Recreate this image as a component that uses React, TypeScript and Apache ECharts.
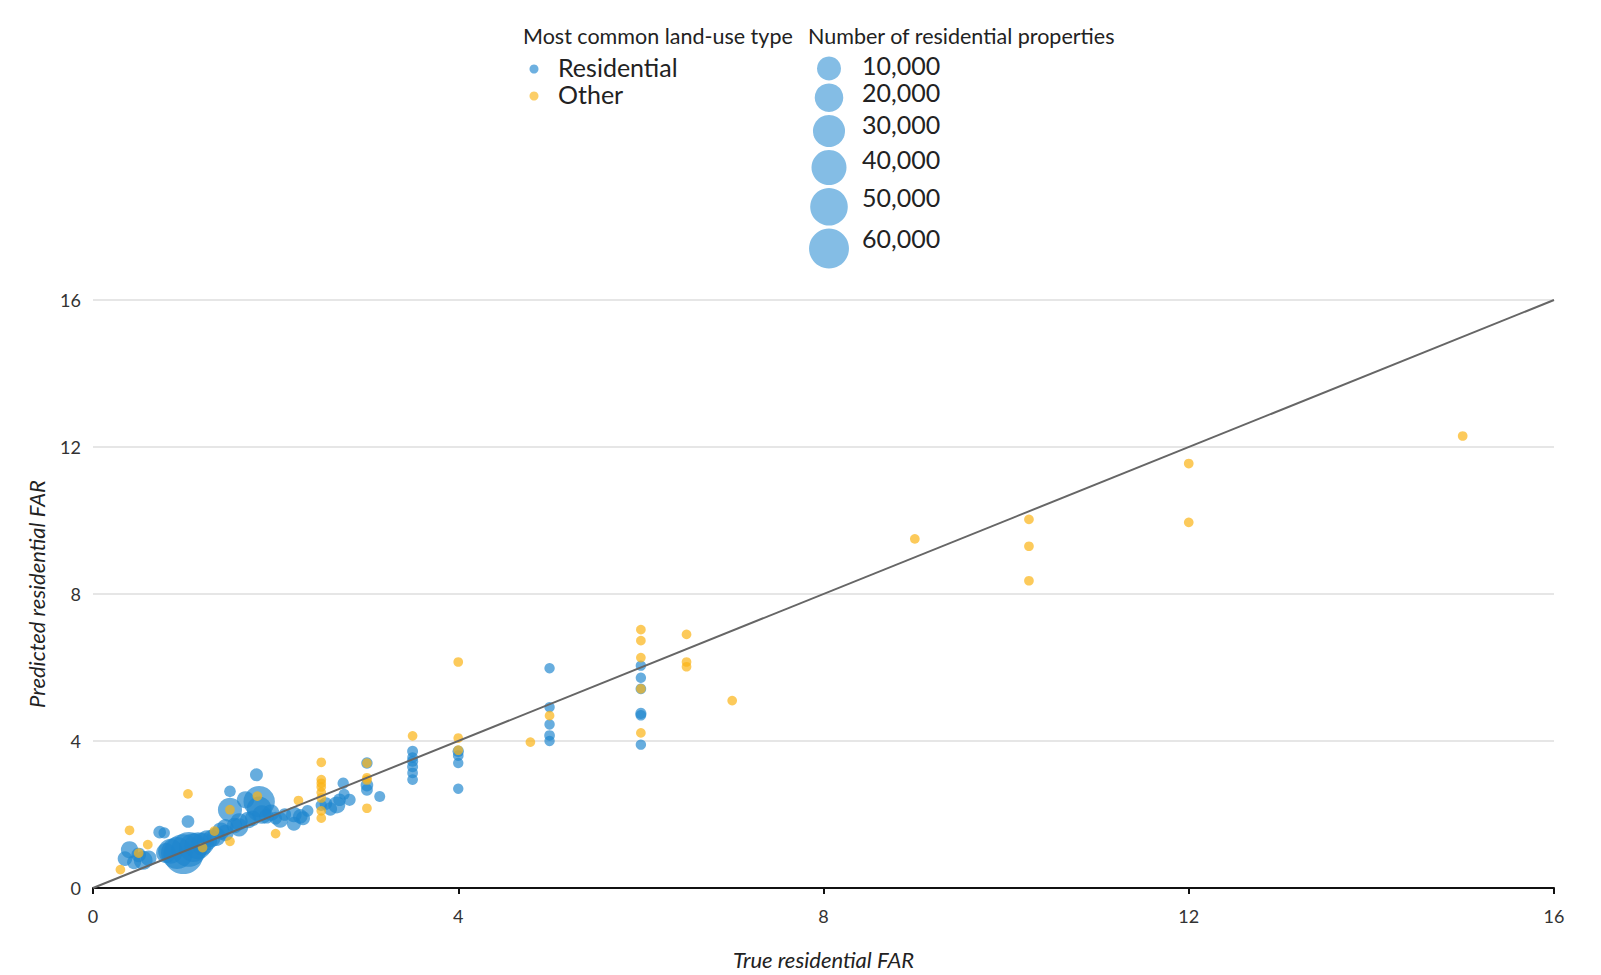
import React, { useEffect, useRef } from "react";
import * as echarts from "echarts";

// [true FAR, predicted FAR, number of residential properties]
const residential: number[][] = [
  [0.4, 1.04, 6000], [0.35, 0.8, 3000], [0.45, 0.7, 2500], [0.61, 0.81, 4000], [0.55, 0.75, 8000],
  [0.5, 0.9, 3000], [0.73, 1.52, 1500], [0.78, 1.5, 800], [0.8, 0.95, 10000], [0.85, 1.0, 20000],
  [0.92, 0.95, 40000], [0.99, 0.92, 70000], [1.05, 1.05, 50000], [1.1, 1.1, 30000], [1.15, 1.15, 25000],
  [1.2, 1.2, 15000], [1.04, 1.81, 1500], [1.25, 1.3, 10000], [1.3, 1.35, 6000], [1.35, 1.4, 8000],
  [1.4, 1.55, 6000], [1.45, 1.5, 5000], [1.45, 1.65, 5000], [1.5, 2.13, 18000], [1.5, 2.63, 900],
  [1.55, 1.7, 4000], [1.6, 1.8, 6000], [1.6, 1.65, 7000], [1.67, 2.4, 6000], [1.7, 1.85, 5000],
  [1.75, 1.9, 4000], [1.79, 3.08, 1700], [1.82, 2.35, 38000], [1.82, 2.15, 20000], [1.85, 2.0, 8000],
  [1.9, 1.95, 3000], [1.95, 2.05, 5000], [2.0, 1.9, 1500], [2.05, 1.85, 4000], [2.1, 2.0, 1500],
  [2.2, 1.75, 2500], [2.2, 2.0, 4000], [2.27, 1.95, 3000], [2.3, 1.9, 2500], [2.35, 2.1, 1000],
  [2.5, 2.25, 800], [2.55, 2.3, 1500], [2.6, 2.15, 2000], [2.67, 2.26, 5600], [2.7, 2.4, 1500],
  [2.74, 2.85, 800], [2.81, 2.4, 1200], [2.75, 2.55, 600], [3.0, 3.4, 800], [3.0, 2.8, 1500],
  [3.0, 2.67, 1000], [3.14, 2.49, 600], [3.5, 3.72, 600], [3.5, 3.55, 500], [3.5, 3.45, 700],
  [3.5, 3.3, 600], [3.5, 3.13, 500], [3.5, 2.95, 500], [4.0, 3.72, 800], [4.0, 3.6, 500],
  [4.0, 3.4, 400], [4.0, 2.7, 400], [5.0, 5.98, 400], [5.0, 4.92, 400], [5.0, 4.45, 400],
  [5.0, 4.15, 500], [5.0, 4.0, 400], [6.0, 6.05, 400], [6.0, 5.72, 400], [6.0, 5.42, 500],
  [6.0, 4.75, 700], [6.0, 4.7, 500], [6.0, 3.9, 400],
];

const other: number[][] = [
  [15.0, 12.3, 200], [12.0, 11.55, 200], [12.0, 9.95, 200], [10.25, 10.03, 200], [10.25, 9.3, 200],
  [10.25, 8.36, 200], [9.0, 9.5, 200], [7.0, 5.1, 200], [6.5, 6.9, 200], [6.5, 6.15, 200],
  [6.5, 6.02, 200], [6.0, 7.03, 200], [6.0, 6.73, 200], [6.0, 6.27, 200], [6.0, 5.42, 200],
  [6.0, 4.22, 200], [5.0, 4.69, 200], [4.79, 3.97, 200], [4.0, 6.15, 200], [4.0, 4.08, 200],
  [4.0, 3.75, 200], [3.5, 4.14, 200], [3.0, 3.4, 200], [3.0, 3.0, 200], [3.0, 2.94, 200],
  [3.0, 2.17, 200], [2.5, 3.42, 200], [2.5, 2.95, 200], [2.5, 2.85, 200], [2.5, 2.75, 200],
  [2.5, 2.6, 200], [2.5, 2.45, 200], [2.5, 2.1, 200], [2.5, 1.9, 200], [2.25, 2.38, 200],
  [2.0, 1.48, 200], [1.5, 1.27, 200], [1.33, 1.55, 200], [1.5, 2.13, 200], [1.04, 2.56, 200],
  [0.4, 1.57, 200], [0.6, 1.18, 200], [0.3, 0.5, 200], [0.5, 0.95, 200], [1.8, 2.5, 200],
  [1.2, 1.1, 200],
];

const diagonal: number[][] = [[0, 0], [16, 16]];

const typeLegendTitle = "Most common land-use type";
const typeLegendItems = ["Residential", "Other"];
const sizeLegendTitle = "Number of residential properties";
const sizeLegendValues = [10000, 20000, 30000, 40000, 50000, 60000];
const sizeLegendLabels = ["10,000", "20,000", "30,000", "40,000", "50,000", "60,000"];

const xName = "True residential FAR";
const yName = "Predicted residential FAR";

const BLUE = "#1f86cf";
const YELLOW = "#fbb316";
const FONT = "Lato, 'Open Sans', sans-serif";

const pointSize = (v: number[]) => 8 + 0.12 * Math.sqrt(v[2]);
const legendRadius = (v: number) => (13 + 0.11 * Math.sqrt(v)) / 2;

export default function App() {
  const ref = useRef<HTMLDivElement>(null);

  useEffect(() => {
    if (!ref.current) return;
    const chart = echarts.init(ref.current, null, { renderer: "svg" });

    const graphics: any[] = [];
    graphics.push({
      type: "text", x: 523, y: 36,
      style: { text: typeLegendTitle, font: `21.5px ${FONT}`, fill: "#222", verticalAlign: "middle" },
    });
    graphics.push({
      type: "text", x: 808, y: 36,
      style: { text: sizeLegendTitle, font: `21.5px ${FONT}`, fill: "#222", verticalAlign: "middle" },
    });
    typeLegendItems.forEach((name, i) => {
      const y = 67 + i * 27;
      graphics.push({
        type: "circle", shape: { cx: 534, cy: y + 2, r: 4.5 },
        style: { fill: i === 0 ? BLUE : YELLOW, opacity: 0.65 },
      });
      graphics.push({
        type: "text", x: 558, y,
        style: { text: name, font: `25px ${FONT}`, fill: "#222", verticalAlign: "middle" },
      });
    });
    let cy = 68.4;
    sizeLegendValues.forEach((v, i) => {
      const r = legendRadius(v);
      if (i > 0) cy += legendRadius(sizeLegendValues[i - 1]) + r + 3;
      graphics.push({
        type: "circle", shape: { cx: 829, cy, r },
        style: { fill: BLUE, opacity: 0.55 },
      });
      graphics.push({
        type: "text", x: 862, y: cy - r + 9,
        style: { text: sizeLegendLabels[i], font: `25px ${FONT}`, fill: "#222", verticalAlign: "middle" },
      });
    });

    chart.setOption({
      animation: false,
      backgroundColor: "#ffffff",
      grid: { left: 93, right: 47, top: 300, bottom: 87, containLabel: false },
      xAxis: {
        type: "value", min: 0, max: 16, interval: 4,
        name: xName, nameLocation: "middle", nameGap: 60,
        nameTextStyle: { fontFamily: FONT, fontStyle: "italic", fontSize: 22, color: "#222" },
        axisLine: { show: true, lineStyle: { color: "#111", width: 2 } },
        axisTick: { show: true, length: 6, lineStyle: { color: "#111", width: 2 } },
        axisLabel: { fontFamily: FONT, fontSize: 18, color: "#333", margin: 19 },
        splitLine: { show: false },
      },
      yAxis: {
        type: "value", min: 0, max: 16, interval: 4,
        name: yName, nameLocation: "middle", nameGap: 46,
        nameTextStyle: { fontFamily: FONT, fontStyle: "italic", fontSize: 22, color: "#222" },
        axisLine: { show: false },
        axisTick: { show: false },
        axisLabel: { fontFamily: FONT, fontSize: 18, color: "#333", margin: 12 },
        splitLine: { show: true, lineStyle: { color: "#dedede", width: 1.5 } },
      },
      series: [
        {
          name: "Residential", type: "scatter", data: residential,
          symbolSize: pointSize,
          itemStyle: { color: BLUE, opacity: 0.68 },
          z: 2,
        },
        {
          name: "Other", type: "scatter", data: other,
          symbolSize: pointSize,
          itemStyle: { color: YELLOW, opacity: 0.7 },
          z: 3,
        },
        {
          name: "Diagonal", type: "line", data: diagonal,
          symbol: "none", silent: true,
          lineStyle: { color: "#666", width: 2 },
          z: 4,
        },
      ],
      graphic: graphics,
    });

    return () => chart.dispose();
  }, []);

  return (
    <div
      ref={ref}
      style={{ position: "fixed", left: 0, top: 0, width: 1601, height: 975 }}
    />
  );
}
